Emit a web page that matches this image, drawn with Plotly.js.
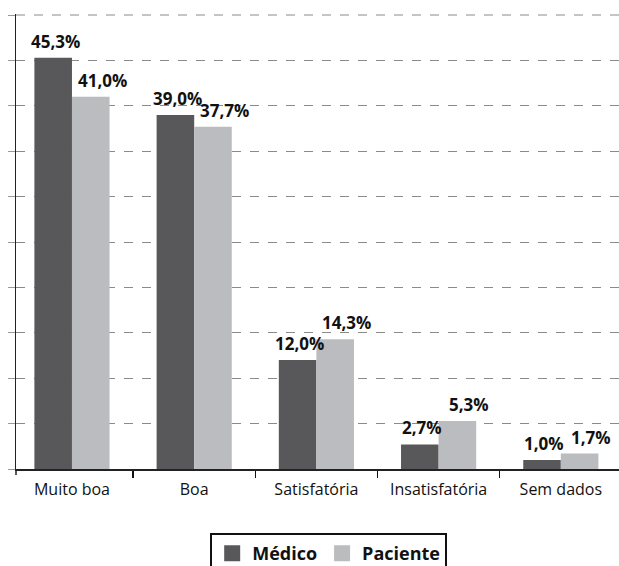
<!DOCTYPE html>
<html>
<head>
<meta charset="utf-8">
<script src="https://cdn.plot.ly/plotly-3.0.1.min.js"></script>
<style>
  html, body { margin: 0; padding: 0; background: #fff; }
  #chart { width: 619px; height: 566px; }
</style>
</head>
<body>
<div id="chart"></div>
<script>
// Avaliação da comunicação: médico vs. paciente (%)
const categories = ["Muito boa", "Boa", "Satisfatória", "Insatisfatória", "Sem dados"];
const medico = [45.3, 39.0, 12.0, 2.7, 1.0];
const paciente = [41.0, 37.7, 14.3, 5.3, 1.7];
const seriesNames = ["Médico", "Paciente"];
const seriesColors = ["#58585a", "#bbbcc0"];

const FONT = "'Open Sans', Lato, sans-serif";
const fmt = v => v.toFixed(1).replace(".", ",") + "%";

function barTrace(name, values, color) {
  return {
    type: "bar", name: name, x: categories, y: values,
    marker: { color: color }, hoverinfo: "skip", showlegend: false
  };
}

// legend entries with larger square swatches
function legendTrace(name, color) {
  return {
    type: "scatter", mode: "markers", name: name, x: [null], y: [null],
    marker: { symbol: "square", size: 16, color: color },
    showlegend: true, hoverinfo: "skip"
  };
}

const traces = [
  barTrace(seriesNames[0], medico, seriesColors[0]),
  barTrace(seriesNames[1], paciente, seriesColors[1]),
  legendTrace(seriesNames[0], seriesColors[0]),
  legendTrace(seriesNames[1], seriesColors[1])
];

// value labels above each bar; bars of a group are offset half a bar width
const barHalf = 18.5;
function valueLabels(values, side, nudge) {
  return values.map((v, i) => ({
    x: categories[i], y: v, xref: "x", yref: "y",
    text: "<b>" + fmt(v) + "</b>", showarrow: false,
    xanchor: "center", yanchor: "bottom",
    xshift: side * barHalf + nudge, yshift: 3,
    font: { family: FONT, size: 17, color: "#111" }
  }));
}

const layout = {
  width: 619, height: 566,
  margin: { l: 16, r: 0, t: 14, b: 97, autoexpand: false },
  paper_bgcolor: "#fff", plot_bgcolor: "#fff",
  barmode: "group", bargap: 0.385, bargroupgap: 0,
  font: { family: FONT, color: "#111" },
  xaxis: {
    type: "category", range: [-0.458, 4.476],
    tickson: "boundaries", ticks: "outside", ticklen: 7, tickcolor: "#111", tickwidth: 1.5,
    ticklabelstandoff: 5,
    showgrid: false, showline: true, linecolor: "#222", linewidth: 1.5,
    tickfont: { size: 16, color: "#111" }, zeroline: false, automargin: false
  },
  yaxis: {
    range: [0, 50.11], tick0: 0, dtick: 5, showticklabels: false,
    ticks: "outside", ticklen: 7, tickcolor: "#999", tickwidth: 1,
    showgrid: true, gridcolor: "#8a8a8a", griddash: "dash", gridwidth: 1,
    showline: true, linecolor: "#222", linewidth: 1.5, zeroline: false, automargin: false
  },
  showlegend: true,
  legend: {
    orientation: "h", xref: "container", yref: "container",
    x: 0.531, xanchor: "center", y: 1 - 533 / 566, yanchor: "top",
    bordercolor: "#111", borderwidth: 2, bgcolor: "#fff",
    font: { size: 18, color: "#111", weight: 700 },
    itemsizing: "trace", itemwidth: 30, traceorder: "normal"
  },
  annotations: [
    ...valueLabels(medico, -1, 2),
    ...valueLabels(paciente, 1, 12)
  ],
  shapes: [
    // top grid line at 50%
    { type: "line", xref: "paper", yref: "y", x0: 0, x1: 1, y0: 50, y1: 50,
      line: { color: "#8a8a8a", width: 1, dash: "dash" } },
    { type: "line", xref: "paper", yref: "paper", x0: 0, x1: 0, y0: 0, y1: -6 / 455,
      line: { color: "#222", width: 1.5 } }
  ]
};

Plotly.newPlot("chart", traces, layout, { displayModeBar: false, staticPlot: true });
</script>
</body>
</html>
